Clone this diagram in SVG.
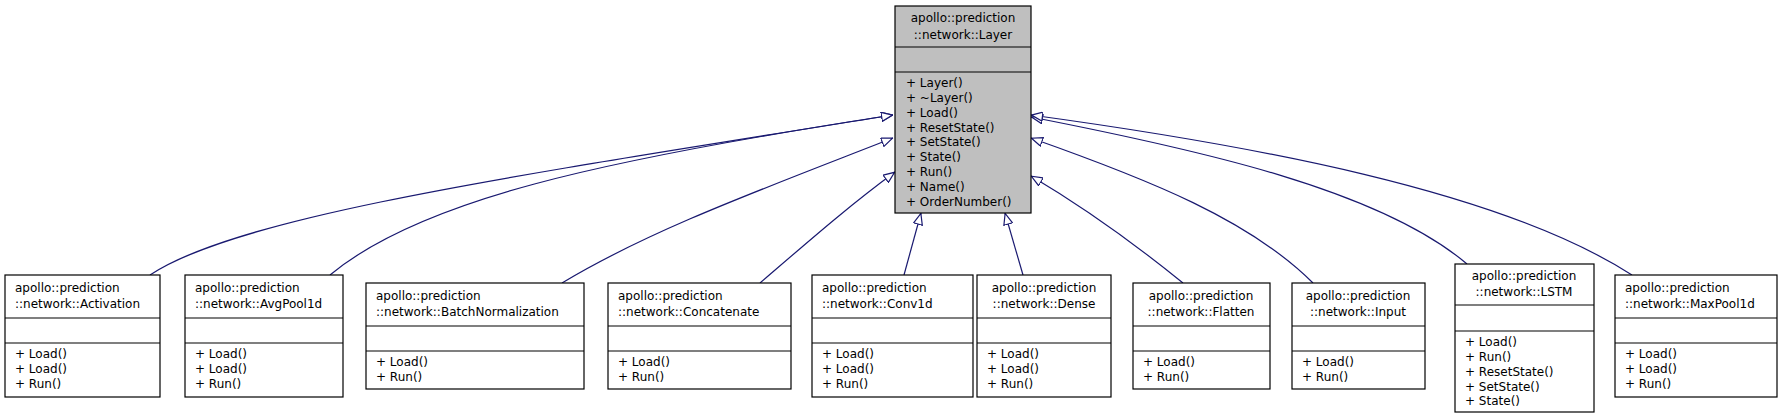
<svg xmlns="http://www.w3.org/2000/svg" width="1783" height="419" viewBox="0 0 1783 419">
<style>
rect{fill:#fff;stroke:#000;stroke-width:1.2}
#layer rect{fill:#bfbfbf}
line{stroke:#000;stroke-width:1.2}
text{font-family:"DejaVu Sans",sans-serif;font-size:12px;fill:#000}
.m{text-anchor:middle}
#edges path{fill:none;stroke:#191970;stroke-width:1.2;marker-end:url(#tri)}
</style>
<defs>
<marker id="tri" viewBox="0 0 12 10" refX="12" refY="5" markerWidth="12" markerHeight="10" markerUnits="userSpaceOnUse" orient="auto">
<path d="M0.5,0.5 L11.5,5 L0.5,9.5 Z" fill="#fff" stroke="#191970" stroke-width="1.2"/>
</marker>
</defs>
<g id="edges">
<path d="M150,275 C240,215 520,175 893,115"/>
<path d="M330,275 C420,200 600,160 893,115"/>
<path d="M562,283 C650,230 760,190 893,138"/>
<path d="M760,283 C810,240 850,205 895,172"/>
<path d="M904,275 L921,213"/>
<path d="M1023,275 L1005,213"/>
<path d="M1183,283 C1130,240 1080,205 1031,176"/>
<path d="M1313,283 C1250,220 1150,180 1031,138"/>
<path d="M1467,264 C1380,190 1200,150 1031,117"/>
<path d="M1632,275 C1500,190 1250,145 1031,115"/>
</g>
<g id="layer">
<rect x="895" y="6" width="136" height="207"/>
<line x1="895" y1="47" x2="1031" y2="47"/><line x1="895" y1="72" x2="1031" y2="72"/>
<text class="m" x="963" y="22">apollo::prediction</text>
<text class="m" x="963" y="39">::network::Layer</text>
<text x="906" y="87">+ Layer()</text>
<text x="906" y="102">+ ~Layer()</text>
<text x="906" y="117">+ Load()</text>
<text x="906" y="132">+ ResetState()</text>
<text x="906" y="146">+ SetState()</text>
<text x="906" y="161">+ State()</text>
<text x="906" y="176">+ Run()</text>
<text x="906" y="191">+ Name()</text>
<text x="906" y="206">+ OrderNumber()</text>
</g>
<g id="activation">
<rect x="5" y="275" width="155" height="122"/>
<line x1="5" y1="318" x2="160" y2="318"/><line x1="5" y1="343" x2="160" y2="343"/>
<text x="15" y="292">apollo::prediction</text><text x="15" y="308">::network::Activation</text>
<text x="15" y="358">+ Load()</text><text x="15" y="373">+ Load()</text><text x="15" y="388">+ Run()</text>
</g>
<g id="avgpool">
<rect x="185" y="275" width="158" height="122"/>
<line x1="185" y1="318" x2="343" y2="318"/><line x1="185" y1="343" x2="343" y2="343"/>
<text x="195" y="292">apollo::prediction</text><text x="195" y="308">::network::AvgPool1d</text>
<text x="195" y="358">+ Load()</text><text x="195" y="373">+ Load()</text><text x="195" y="388">+ Run()</text>
</g>
<g id="batchnorm">
<rect x="366" y="283" width="218" height="106"/>
<line x1="366" y1="326" x2="584" y2="326"/><line x1="366" y1="351" x2="584" y2="351"/>
<text x="376" y="300">apollo::prediction</text><text x="376" y="316">::network::BatchNormalization</text>
<text x="376" y="366">+ Load()</text><text x="376" y="381">+ Run()</text>
</g>
<g id="concatenate">
<rect x="608" y="283" width="183" height="106"/>
<line x1="608" y1="326" x2="791" y2="326"/><line x1="608" y1="351" x2="791" y2="351"/>
<text x="618" y="300">apollo::prediction</text><text x="618" y="316">::network::Concatenate</text>
<text x="618" y="366">+ Load()</text><text x="618" y="381">+ Run()</text>
</g>
<g id="conv1d">
<rect x="812" y="275" width="161" height="122"/>
<line x1="812" y1="318" x2="973" y2="318"/><line x1="812" y1="343" x2="973" y2="343"/>
<text x="822" y="292">apollo::prediction</text><text x="822" y="308">::network::Conv1d</text>
<text x="822" y="358">+ Load()</text><text x="822" y="373">+ Load()</text><text x="822" y="388">+ Run()</text>
</g>
<g id="dense">
<rect x="977" y="275" width="134" height="122"/>
<line x1="977" y1="318" x2="1111" y2="318"/><line x1="977" y1="343" x2="1111" y2="343"/>
<text class="m" x="1044" y="292">apollo::prediction</text><text class="m" x="1044" y="308">::network::Dense</text>
<text x="987" y="358">+ Load()</text><text x="987" y="373">+ Load()</text><text x="987" y="388">+ Run()</text>
</g>
<g id="flatten">
<rect x="1133" y="283" width="137" height="106"/>
<line x1="1133" y1="326" x2="1270" y2="326"/><line x1="1133" y1="351" x2="1270" y2="351"/>
<text class="m" x="1201" y="300">apollo::prediction</text><text class="m" x="1201" y="316">::network::Flatten</text>
<text x="1143" y="366">+ Load()</text><text x="1143" y="381">+ Run()</text>
</g>
<g id="input">
<rect x="1292" y="283" width="133" height="106"/>
<line x1="1292" y1="326" x2="1425" y2="326"/><line x1="1292" y1="351" x2="1425" y2="351"/>
<text class="m" x="1358" y="300">apollo::prediction</text><text class="m" x="1358" y="316">::network::Input</text>
<text x="1302" y="366">+ Load()</text><text x="1302" y="381">+ Run()</text>
</g>
<g id="lstm">
<rect x="1455" y="264" width="139" height="148"/>
<line x1="1455" y1="305" x2="1594" y2="305"/><line x1="1455" y1="331" x2="1594" y2="331"/>
<text class="m" x="1524" y="280">apollo::prediction</text><text class="m" x="1524" y="296">::network::LSTM</text>
<text x="1465" y="346">+ Load()</text><text x="1465" y="361">+ Run()</text><text x="1465" y="376">+ ResetState()</text><text x="1465" y="391">+ SetState()</text><text x="1465" y="405">+ State()</text>
</g>
<g id="maxpool">
<rect x="1615" y="275" width="162" height="122"/>
<line x1="1615" y1="318" x2="1777" y2="318"/><line x1="1615" y1="343" x2="1777" y2="343"/>
<text x="1625" y="292">apollo::prediction</text><text x="1625" y="308">::network::MaxPool1d</text>
<text x="1625" y="358">+ Load()</text><text x="1625" y="373">+ Load()</text><text x="1625" y="388">+ Run()</text>
</g>
</svg>
